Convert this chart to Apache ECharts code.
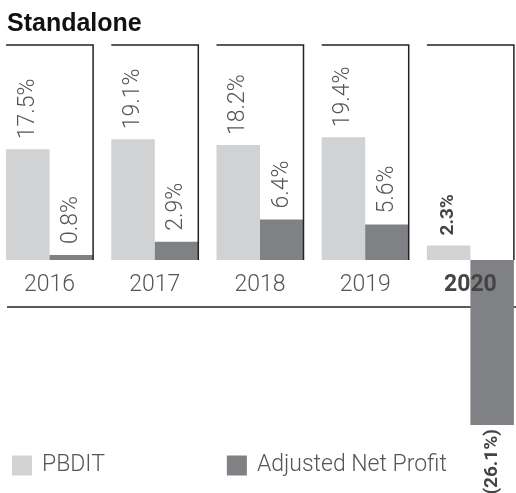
<!DOCTYPE html>
<html>
<head>
<meta charset="utf-8">
<script src="https://cdn.jsdelivr.net/npm/echarts@6/dist/echarts.min.js"></script>
<style>
  html, body { margin: 0; padding: 0; background: #fff; }
  #chart { width: 516px; height: 493px; }
</style>
</head>
<body>
<div id="chart"></div>
<script>
  // values in %
  const years = ["2016", "2017", "2018", "2019", "2020"];
  const pbdit = [17.5, 19.1, 18.2, 19.4, 2.3];
  const netProfit = [0.8, 2.9, 6.4, 5.6, -26.1];

  const barW = 43.5;
  const lightFont = { fontFamily: "Roboto", fontWeight: 300, fontSize: 23, color: "#555" };
  const boldLabel = { fontFamily: "Roboto", fontWeight: "bold", fontSize: 19, color: "#444" };

  const pct = (v) => (v < 0 ? "(" + Math.abs(v).toFixed(1) + "%)" : v.toFixed(1) + "%");

  const lastIdx = years.length - 1;

  const chart = echarts.init(document.getElementById("chart"));
  chart.setOption({
    animation: false,
    title: {
      text: "Standalone",
      left: 2,
      top: 7,
      textStyle: { fontFamily: "Liberation Sans", fontWeight: "bold", fontSize: 25, color: "#111" },
    },
    legend: {
      data: ["PBDIT", "Adjusted Net Profit"],
      left: 7,
      top: 449,
      icon: "rect",
      itemWidth: 20,
      itemHeight: 20,
      itemGap: 122,
      textStyle: { ...lightFont, padding: [0, 0, 34, 5] },
    },
    grid: { left: -3, right: -7, top: 45, bottom: 18, outerBoundsMode: "none", containLabel: false },
    xAxis: {
      type: "category",
      data: years,
      axisLine: { show: false },
      axisTick: { show: false },
      axisLabel: { show: false },
    },
    yAxis: {
      type: "value",
      min: -34,
      max: 34,
      show: false,
    },
    graphic: [
      {
        type: "line",
        z: 1,
        shape: { x1: 7, y1: 307, x2: 516, y2: 307 },
        style: { stroke: "#222", lineWidth: 1.5 },
      },
    ],
    series: [
      {
        name: "PBDIT",
        type: "bar",
        barWidth: barW,
        barGap: "0%",
        itemStyle: { color: "#d1d2d4" },
        label: {
          show: true,
          position: "top",
          rotate: 90,
          align: "left",
          verticalAlign: "middle",
          distance: 10,
          ...lightFont,
          formatter: (p) => pct(p.value),
        },
        data: pbdit.map((v, i) =>
          i === lastIdx ? { value: v, label: { ...boldLabel } } : v
        ),
      },
      {
        name: "Adjusted Net Profit",
        type: "bar",
        barWidth: barW,
        barGap: "0%",
        itemStyle: { color: "#808184" },
        label: {
          show: true,
          position: "top",
          rotate: 90,
          align: "left",
          verticalAlign: "middle",
          distance: 11,
          ...lightFont,
          formatter: (p) => pct(p.value),
        },
        data: netProfit.map((v) =>
          v < 0
            ? { value: v, label: { ...boldLabel, position: "bottom", align: "right", distance: 4 } }
            : v
        ),
      },
      {
        // panel frames (top rule + right rule) and the year under each panel
        type: "custom",
        z: 5,
        silent: true,
        data: years.map((y, i) => [i, 0]),
        renderItem: (params, api) => {
          const i = api.value(0);
          const base = api.coord([i, 0]);
          const top = params.coordSys.y;
          const x0 = base[0] - barW;
          const x1 = base[0] + barW;
          const isLast = i === lastIdx;
          return {
            type: "group",
            children: [
              {
                type: "polyline",
                shape: { points: [[x0, top], [x1, top], [x1, base[1]]] },
                style: { stroke: "#222", lineWidth: 1.5, fill: null },
              },
              {
                type: "text",
                x: base[0],
                y: base[1] + 14,
                style: {
                  text: years[i],
                  align: "center",
                  verticalAlign: "top",
                  fontFamily: "Roboto",
                  fontSize: 23,
                  fontWeight: isLast ? "bold" : 300,
                  fill: isLast ? "#444" : "#555",
                },
              },
            ],
          };
        },
      },
    ],
  });
</script>
</body>
</html>
